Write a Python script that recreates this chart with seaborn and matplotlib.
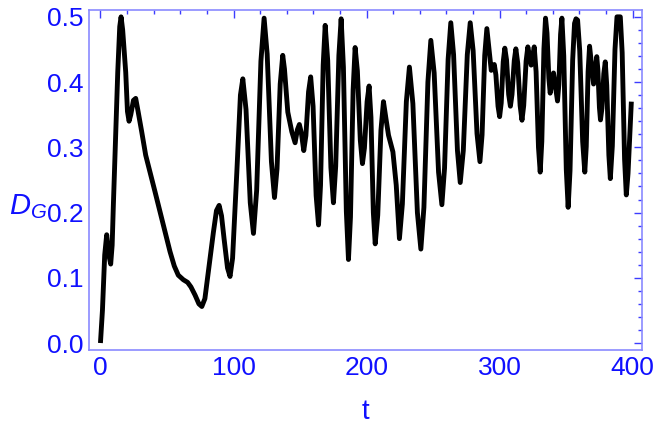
import matplotlib
matplotlib.use('Agg')
import matplotlib.pyplot as plt
from matplotlib.ticker import MultipleLocator
import pandas as pd
import seaborn as sns

# values (extremes plus shape points on the flanks)
t_vals = [0, 1.5, 3.2, 4.7, 6.3, 7.7, 8.8, 9.7, 13, 14.5,
          15.5, 16.7, 19, 20.3, 21.5, 22.8, 24.8, 26.5, 28.3, 31,
          34, 41, 48.6, 52.3, 55.5, 58.5, 62.3, 65.5, 68, 71.1,
          74, 76.2, 78.5, 81.1, 84.9, 87.2, 89.2, 91, 92.9, 95.5,
          97.4, 99.3, 102.5, 105.2, 107, 109.4, 112.6, 115, 117.4, 120.6,
          123, 125.3, 128.5, 130.8, 132.7, 135.1, 137, 138.3, 140.8, 143.8,
          146.3, 148, 149.5, 151, 152.8, 154.4, 156.4, 158, 159.8, 162.1,
          163.9, 165.4, 167.4, 168.9, 170.8, 173.2, 175.1, 176.8, 179.2, 180.9,
          182.6, 184.8, 186.4, 187.9, 189.9, 191.4, 193.1, 195.3, 196.9, 198.4,
          200.4, 201.9, 203.3, 205.1, 206.5, 208.4, 210.8, 212.7, 214.5, 216.5,
          219.8, 222.3, 224.7, 226.9, 229.9, 232.2, 234.8, 238.2, 240.8, 243.1,
          246.1, 248.3, 250.8, 254.1, 256.6, 258.6, 261.3, 263.3, 265.4, 268.3,
          270.4, 272.7, 275.7, 277.9, 280.1, 283.0, 285.2, 286.8, 288.8, 290.4,
          291.8, 293.7, 296, 297.2, 298.8, 300, 301.2, 302.7, 303.9, 305.2,
          306.8, 308.1, 309.3, 311.0, 312.2, 313.6, 315.4, 316.8, 318.1, 319.9,
          321.2, 323.7, 326, 327.4, 329.2, 330.5, 331.7, 333.3, 334.5, 335.6,
          337.0, 338, 340.5, 343.5, 344.5, 345.8, 346.8, 348.2, 350.1, 351.5,
          352.9, 354.9, 356.3, 357.4, 358.6, 360.2, 362.4, 364, 365.1, 366.5,
          367.6, 370.6, 373, 373.8, 375.0, 375.8, 376.9, 378.3, 379.4, 380.5,
          382.1, 383.2, 384.7, 386.7, 388.2, 390.7, 392.1, 393.9, 395.2, 396.5,
          399]
dg_vals = [0.0, 0.05, 0.135, 0.166, 0.135, 0.121, 0.15, 0.211, 0.415, 0.485,
           0.5, 0.48, 0.415, 0.355, 0.34, 0.35, 0.372, 0.375, 0.355, 0.324,
           0.288, 0.232, 0.170, 0.140, 0.118, 0.104, 0.097, 0.093, 0.086, 0.0735,
           0.060, 0.056, 0.068, 0.109, 0.170, 0.203, 0.211, 0.195, 0.160, 0.115,
           0.102, 0.13, 0.262, 0.38, 0.405, 0.358, 0.215, 0.168, 0.234, 0.432,
           0.498, 0.443, 0.278, 0.223, 0.267, 0.397, 0.441, 0.42, 0.354, 0.324,
           0.307, 0.327, 0.335, 0.322, 0.295, 0.318, 0.385, 0.408, 0.363, 0.226,
           0.181, 0.242, 0.426, 0.487, 0.433, 0.269, 0.215, 0.271, 0.441, 0.497,
           0.423, 0.202, 0.128, 0.193, 0.388, 0.453, 0.417, 0.311, 0.275, 0.299,
           0.370, 0.394, 0.346, 0.200, 0.152, 0.196, 0.326, 0.370, 0.345, 0.3185,
           0.293, 0.242, 0.160, 0.213, 0.370, 0.423, 0.367, 0.200, 0.144, 0.208,
           0.400, 0.464, 0.414, 0.262, 0.212, 0.268, 0.435, 0.491, 0.442, 0.295,
           0.246, 0.295, 0.442, 0.491, 0.448, 0.321, 0.278, 0.319, 0.441, 0.482,
           0.455, 0.418, 0.427, 0.411, 0.363, 0.347, 0.368, 0.431, 0.452, 0.434,
           0.381, 0.363, 0.381, 0.433, 0.451, 0.429, 0.364, 0.3415, 0.364, 0.432,
           0.454, 0.426, 0.454, 0.416, 0.300, 0.262, 0.309, 0.451, 0.498, 0.475,
           0.406, 0.383, 0.414, 0.371, 0.396, 0.473, 0.498, 0.440, 0.266, 0.208,
           0.264, 0.434, 0.49, 0.497, 0.495, 0.448, 0.309, 0.262, 0.301, 0.416,
           0.455, 0.397, 0.439, 0.42, 0.361, 0.342, 0.36, 0.413, 0.431, 0.395,
           0.288, 0.252, 0.302, 0.45, 0.5, 0.5, 0.445, 0.282, 0.227, 0.26,
           0.370]

x_ticks = [0, 100, 200, 300, 400]
y_ticks = [0.0, 0.1, 0.2, 0.3, 0.4, 0.5]

df = pd.DataFrame({'t': t_vals, 'D': dg_vals})

sns.set_style('white')
plt.rcParams['font.family'] = ['Liberation Sans', 'DejaVu Sans']
plt.rcParams['mathtext.fontset'] = 'custom'
plt.rcParams['mathtext.it'] = 'Liberation Sans:italic'
plt.rcParams['mathtext.rm'] = 'Liberation Sans'

frame_col = '#8a8aff'
tick_col = '#3c3cff'
lab_col = '#1010ff'

fig = plt.figure(figsize=(6.54, 4.32), dpi=100)
ax = fig.add_axes([89 / 654, 82 / 432, 553 / 654, 340 / 432])
sns.lineplot(data=df, x='t', y='D', color='black', lw=3.5, sort=False, ax=ax)
ax.lines[0].set_solid_joinstyle('round')
ax.lines[0].set_solid_capstyle('butt')

ax.set_xlim(-8.6, 407)
ax.set_ylim(-0.0107, 0.5105)
ax.set_xticks(x_ticks)
ax.set_yticks(y_ticks)
ax.set_xticklabels([str(v) for v in x_ticks])
ax.set_yticklabels(['%.1f' % v for v in y_ticks])
ax.xaxis.set_minor_locator(MultipleLocator(20))
ax.yaxis.set_minor_locator(MultipleLocator(0.02))
ax.tick_params(which='both', direction='in', top=True, right=True,
               color=tick_col, labelcolor=lab_col, labelsize=19, width=1)
ax.tick_params(which='major', length=6, pad=4)
ax.tick_params(which='minor', length=3)
for sp in ax.spines.values():
    sp.set_color(frame_col)
    sp.set_linewidth(1.2)

ax.set_xlabel('t', color=lab_col, fontsize=20)
ax.set_ylabel(r'$D_G$', color=lab_col, fontsize=21, rotation=0)
ax.yaxis.set_label_coords(-0.11, 0.38)
ax.xaxis.set_label_coords(0.5, -0.145)

fig.savefig('out.png', dpi=100)
